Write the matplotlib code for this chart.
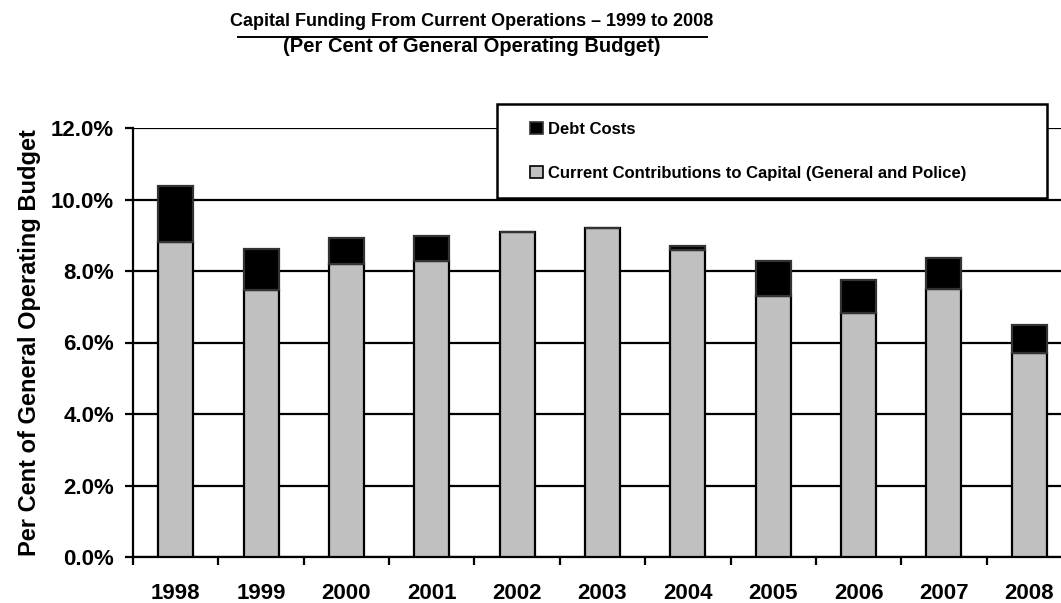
import numpy as np
import matplotlib
matplotlib.use("Agg")
import matplotlib.pyplot as plt
from matplotlib.patches import Rectangle, Patch
from matplotlib.ticker import FixedLocator, PercentFormatter

years = ["1998", "1999", "2000", "2001", "2002", "2003",
         "2004", "2005", "2006", "2007", "2008"]
# per cent of general operating budget
current_contrib = [8.80, 7.47, 8.20, 8.27, 9.09, 9.20, 8.58, 7.30, 6.82, 7.51, 5.70]
debt_costs = [1.59, 1.14, 0.73, 0.72, 0.00, 0.00, 0.11, 0.98, 0.92, 0.85, 0.79]

plt.rcParams['font.family'] = ['Liberation Sans', 'DejaVu Sans']
plt.rcParams['font.weight'] = 'bold'

W, H = 1061, 603
fig = plt.figure(figsize=(W / 100, H / 100), dpi=100)
fig.patch.set_facecolor("white")

# axes runs a little past the right edge of the figure
ax = fig.add_axes([133 / W, 1 - 557 / H, 939 / W, 429 / H])

x = np.arange(len(years))
ax.bar(x, current_contrib, width=0.41, color="#c0c0c0",
       edgecolor="black", linewidth=1.6, zorder=3)
ax.bar(x, debt_costs, width=0.41, bottom=current_contrib, color="black",
       edgecolor="#333333", linewidth=1.6, zorder=3)

ax.set_xlim(-0.5, len(years) - 0.5)
ax.set_ylim(0, 12)
ax.set_yticks(np.arange(0, 12.1, 2))
ax.yaxis.set_major_formatter(PercentFormatter(decimals=1))
ax.yaxis.grid(True, color="black", linewidth=1.6, zorder=0)
ax.set_axisbelow(True)

ax.set_xticks(x)
ax.set_xticklabels(years)
ax.xaxis.set_minor_locator(FixedLocator(np.arange(-0.5, len(years), 1.0)))
ax.tick_params(axis="x", which="major", length=0, pad=18.5, labelsize=16)
ax.tick_params(axis="x", which="minor", length=5.5, width=1.6, direction="out")
ax.tick_params(axis="y", length=5.5, width=1.6, direction="out", pad=8, labelsize=16)
for lab in ax.get_xticklabels() + ax.get_yticklabels():
    lab.set_fontweight("bold")

for side in ("top", "right"):
    ax.spines[side].set_visible(False)
for side in ("left", "bottom"):
    ax.spines[side].set_linewidth(1.6)

ax.set_ylabel("Per Cent of General Operating Budget", fontsize=17,
              fontweight="bold", labelpad=7)

# titles
fig.text(472 / W, 1 - 22 / H,
         "Capital Funding From Current Operations \u2013 1999 to 2008",
         ha="center", va="center", fontsize=13, fontweight="bold")
fig.add_artist(plt.Line2D([238 / W, 707 / W], [1 - 36.5 / H, 1 - 36.5 / H],
                          color="black", linewidth=1.4,
                          transform=fig.transFigure))
fig.text(472 / W, 1 - 47 / H, "(Per Cent of General Operating Budget)",
         ha="center", va="center", fontsize=14.5, fontweight="bold")

# legend box
fig.add_artist(Rectangle((497 / W, 1 - 198 / H), 550 / W, 94 / H,
                         transform=fig.transFigure, facecolor="white",
                         edgecolor="black", linewidth=1.8, zorder=4))
handles = [Patch(facecolor="black", edgecolor="#333333", linewidth=1.2),
           Patch(facecolor="#c0c0c0", edgecolor="black", linewidth=1.2)]
labels = ["Debt Costs", "Current Contributions to Capital (General and Police)"]
fig.legend(handles, labels, loc="upper left",
           bbox_to_anchor=(530 / W, 1 - 122 / H), frameon=False,
           borderpad=0, borderaxespad=0, handlelength=0.75, handleheight=0.75,
           handletextpad=0.3, labelspacing=1.75,
           prop={"size": 12, "weight": "bold"})

fig.savefig("out.png", dpi=100)
